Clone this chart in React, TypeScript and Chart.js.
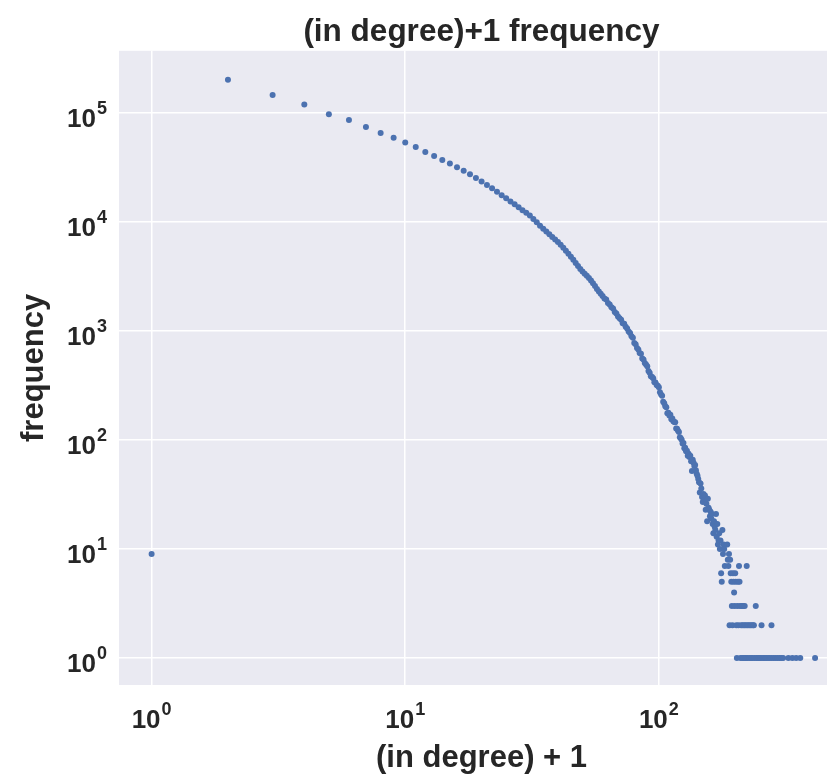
import React, { useEffect, useRef } from "react";
import { Chart, registerables } from "chart.js";

Chart.register(...registerables);

const TITLE = "(in degree)+1 frequency";
const X_LABEL = "(in degree) + 1";
const Y_LABEL = "frequency";
const X_TICKS = [1, 10, 100];
const Y_TICKS = [1, 10, 100, 1000, 10000, 100000];
const X_TICK_EXPONENTS = ["0", "1", "2"];
const Y_TICK_EXPONENTS = ["0", "1", "2", "3", "4", "5"];

const degreeHead = [
  1, 2, 3, 4, 5, 6, 7, 8, 9, 10, 11, 12, 13, 14, 15, 16, 17, 18, 19, 20,
  21, 22, 23, 24, 25, 26, 27, 28, 29, 30, 31, 32, 33, 34, 35, 36, 37, 38, 39, 40,
  41, 42, 43, 44, 45, 46, 47, 48, 49, 50, 51, 52, 53, 54, 55, 56, 57, 58, 59, 60,
];
const freqHead = [
  9, 203000, 147000, 120000, 98000, 86600, 74700, 65800, 59600, 54000,
  49000, 44000, 40500, 37300, 34600, 31900, 29600, 27500, 25400, 23600,
  21900, 20500, 19000, 17700, 16600, 15500, 14600, 13700, 12900, 12200,
  11500, 10700, 9960, 9290, 8710, 8200, 7740, 7320, 6930, 6570,
  6210, 5820, 5460, 5130, 4820, 4510, 4230, 3960, 3720, 3520,
  3370, 3220, 3080, 2920, 2750, 2590, 2440, 2310, 2200, 2100,
];

const degreeMid = [
  61, 62, 63, 64, 65, 66, 67, 68, 69, 70, 71, 72, 73, 74, 75, 76, 77, 78, 79, 80,
  81, 82, 83, 84, 85, 86, 87, 88, 89, 90, 91, 92, 93, 94, 95, 96, 97, 98, 99, 100,
  101, 102, 103, 104, 105, 106, 107, 108, 109, 110, 111, 112, 113, 114, 115, 116, 117, 118, 119, 120,
  121, 122, 123, 124, 125, 126, 127, 128, 129, 130, 131, 132, 133, 134, 135, 136, 137, 138, 139, 140,
];
const freqMid = [
  1990, 1950, 1810, 1760, 1660, 1610, 1500, 1450, 1360, 1310,
  1270, 1180, 1170, 1100, 1060, 990, 960, 900, 870, 780,
  760, 700, 680, 630, 620, 560, 550, 510, 495, 475,
  430, 415, 385, 380, 370, 340, 338, 320, 316, 305,
  275, 262, 255, 225, 218, 205, 200, 176, 178, 168,
  171, 155, 158, 149, 147, 146, 128, 127, 122, 119,
  106, 104, 101, 93, 94, 84, 85, 79, 80, 72,
  75, 70, 72, 64, 52, 66, 62, 58, 59, 53,
];

const degreeTail = [
  141, 142, 143, 144, 145, 146, 147, 148, 149, 150, 151, 152, 153, 154, 155, 156, 157, 158, 159, 160,
  161, 162, 163, 164, 165, 166, 167, 168, 169, 170, 171, 172, 173, 174, 175, 176, 177, 178, 179, 180,
  181, 182, 186, 187, 188, 189, 190, 191, 192, 193, 194, 195, 196, 197, 198, 199, 200, 201, 202, 203,
  204, 205, 206, 207, 208, 209, 210, 211, 212, 213, 214, 215, 216, 217, 218, 219, 220, 221, 222, 223,
  224, 226, 228, 229, 231, 232, 234, 235, 237, 238, 241, 242, 245, 248, 251, 254, 255, 259, 262, 266,
  270, 274, 278, 279, 284, 289, 294, 299, 304, 309, 324, 336, 348, 361, 413,
];
const freqTail = [
  49, 47, 44, 41, 33, 40, 36, 30, 27, 32, 29, 31, 23, 26, 18, 29, 24, 23, 20, 22,
  19, 21, 17, 14, 18, 16, 15, 21, 13, 17, 11, 12, 14, 10, 12, 6, 5, 15, 9, 11,
  10, 7, 11, 8, 7, 9, 2, 8, 6, 5, 3, 2, 6, 5, 4, 3, 6, 5, 2, 1,
  3, 5, 2, 7, 5, 3, 1, 2, 3, 1, 2, 3, 1, 2, 3, 1, 2, 1, 7, 2,
  1, 2, 1, 2, 1, 2, 1, 2, 2, 1, 3, 1, 1, 1, 1, 2, 1, 1, 1, 1,
  1, 1, 2, 1, 1, 1, 1, 1, 1, 1, 1, 1, 1, 1, 1,
];

const FONT = '"Liberation Sans", Arial, sans-serif';
const TEXT_COLOR = "#262626";
const BASE_SIZE = 26;
const SUP_SIZE = 18;

function drawPower(ctx: CanvasRenderingContext2D, exp: string, x: number, baseline: number, anchor: "center" | "right") {
  ctx.font = `bold ${BASE_SIZE}px ${FONT}`;
  const wBase = ctx.measureText("10").width;
  ctx.font = `bold ${SUP_SIZE}px ${FONT}`;
  const wSup = ctx.measureText(exp).width;
  const gap = 1;
  const total = wBase + gap + wSup;
  const start = anchor === "center" ? x - total / 2 : x - total;
  ctx.textAlign = "left";
  ctx.textBaseline = "alphabetic";
  ctx.fillStyle = TEXT_COLOR;
  ctx.font = `bold ${BASE_SIZE}px ${FONT}`;
  ctx.fillText("10", start, baseline);
  ctx.font = `bold ${SUP_SIZE}px ${FONT}`;
  ctx.fillText(exp, start + wBase + gap, baseline - 13);
}

const plotBackground = {
  id: "plotBackground",
  beforeDraw(chart: any) {
    const { ctx, chartArea } = chart;
    if (!chartArea) return;
    ctx.save();
    ctx.fillStyle = "#EAEAF2";
    ctx.fillRect(chartArea.left, chartArea.top, chartArea.right - chartArea.left, chartArea.bottom - chartArea.top);
    ctx.restore();
  },
};

const powerTickLabels = {
  id: "powerTickLabels",
  afterDraw(chart: any) {
    const { ctx, chartArea, scales } = chart;
    ctx.save();
    X_TICKS.forEach((v, i) => {
      const px = scales.x.getPixelForValue(v);
      drawPower(ctx, X_TICK_EXPONENTS[i], px, chartArea.bottom + 43, "center");
    });
    Y_TICKS.forEach((v, i) => {
      const py = scales.y.getPixelForValue(v);
      drawPower(ctx, Y_TICK_EXPONENTS[i], chartArea.left - 12, py + 14, "right");
    });
    ctx.restore();
  },
};

export default function App() {
  const canvasRef = useRef<HTMLCanvasElement | null>(null);

  useEffect(() => {
    document.body.style.margin = "0";
    const canvas = canvasRef.current;
    if (!canvas) return;
    const xs = [...degreeHead, ...degreeMid, ...degreeTail];
    const ys = [...freqHead, ...freqMid, ...freqTail];
    const points = xs.map((x, i) => ({ x, y: ys[i] }));

    const chart = new Chart(canvas, {
      type: "scatter",
      data: {
        datasets: [
          {
            data: points,
            pointRadius: 3,
            pointHoverRadius: 3,
            pointBackgroundColor: "#4C72B0",
            pointBorderWidth: 0,
            pointBorderColor: "#4C72B0",
          },
        ],
      },
      options: {
        animation: false,
        responsive: false,
        devicePixelRatio: 1,
        layout: { padding: 0 },
        plugins: {
          legend: { display: false },
          tooltip: { enabled: false },
          title: {
            display: true,
            text: TITLE,
            color: TEXT_COLOR,
            fullSize: false,
            font: { family: FONT, size: 31.5, weight: "bold" },
            padding: { top: 13, bottom: 0 },
          },
        },
        scales: {
          x: {
            type: "logarithmic",
            bounds: "data",
            min: 0.7438,
            max: 537,
            afterBuildTicks: (scale: any) => {
              scale.ticks = X_TICKS.map((v) => ({ value: v }));
            },
            ticks: { display: false },
            grid: { color: "#ffffff", lineWidth: 1.5, drawTicks: false },
            border: { display: false },
            title: {
              display: true,
              text: X_LABEL,
              color: TEXT_COLOR,
              font: { family: FONT, size: 31, weight: "bold" },
              padding: { top: 54.4, bottom: 3.4 },
            },
          },
          y: {
            type: "logarithmic",
            bounds: "data",
            min: 0.5656,
            max: 374000,
            afterBuildTicks: (scale: any) => {
              scale.ticks = Y_TICKS.map((v) => ({ value: v }));
            },
            ticks: { display: false },
            grid: { color: "#ffffff", lineWidth: 1.5, drawTicks: false },
            border: { display: false },
            title: {
              display: true,
              text: Y_LABEL,
              color: TEXT_COLOR,
              font: { family: FONT, size: 31, weight: "bold" },
              padding: { top: 16, bottom: 65.8 },
            },
          },
        },
      },
      plugins: [plotBackground, powerTickLabels],
    });
    return () => chart.destroy();
  }, []);

  return (
    <div style={{ width: 827, height: 780, overflow: "hidden" }}>
      <canvas ref={canvasRef} width={847} height={780} style={{ display: "block", width: 847, height: 780 }} />
    </div>
  );
}
